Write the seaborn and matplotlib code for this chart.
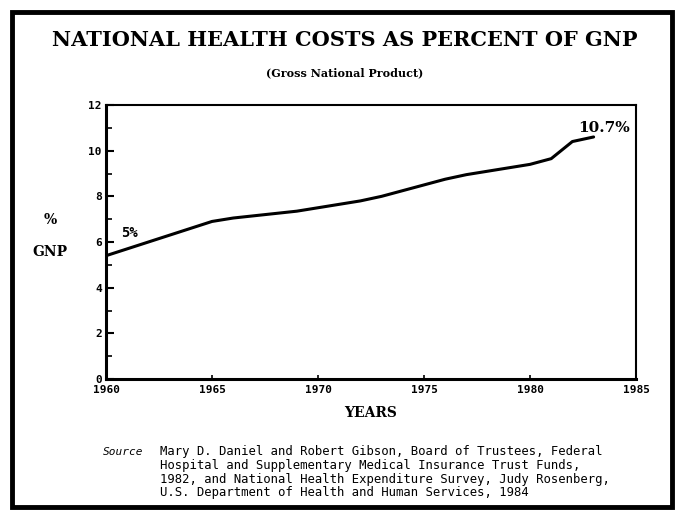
import matplotlib
matplotlib.use("Agg")
import matplotlib.pyplot as plt
import seaborn as sns
import pandas as pd
from matplotlib.patches import Rectangle
from matplotlib.ticker import MultipleLocator

years = [1960, 1961, 1962, 1963, 1964, 1965, 1966, 1967, 1968, 1969, 1970, 1971,
         1972, 1973, 1974, 1975, 1976, 1977, 1978, 1979, 1980, 1981, 1982, 1983]
pct_gnp = [5.4, 5.7, 6.0, 6.3, 6.6, 6.9, 7.05, 7.15, 7.25, 7.35, 7.5, 7.65,
           7.8, 8.0, 8.25, 8.5, 8.75, 8.95, 9.1, 9.25, 9.4, 9.65, 10.4, 10.6]
x_ticks = [1960, 1965, 1970, 1975, 1980, 1985]
y_ticks = [0, 2, 4, 6, 8, 10, 12]

title = "NATIONAL HEALTH COSTS AS PERCENT OF GNP"
subtitle = "(Gross National Product)"
source_lines = [
    "Mary D. Daniel and Robert Gibson, Board of Trustees, Federal",
    "Hospital and Supplementary Medical Insurance Trust Funds,",
    "1982, and National Health Expenditure Survey, Judy Rosenberg,",
    "U.S. Department of Health and Human Services, 1984",
]

df = pd.DataFrame({"year": years, "pct": pct_gnp})

sns.set_style("white")
plt.rcParams["font.family"] = ["DejaVu Serif"]
plt.rcParams["text.color"] = "black"
plt.rcParams["xtick.color"] = "black"
plt.rcParams["ytick.color"] = "black"

W, H = 678, 511
fig = plt.figure(figsize=(W / 100, H / 100), dpi=100)
fig.patch.set_facecolor("white")

# axes: x 106->636 px, y 105->379 px (from top)
ax = fig.add_axes([106 / W, 1 - 379 / H, (636 - 106) / W, (379 - 105) / H])
sns.lineplot(data=df, x="year", y="pct", ax=ax, color="black", linewidth=2.2)

ax.set_xlim(1960, 1985)
ax.set_ylim(0, 12)
ax.set_xticks(x_ticks)
ax.set_yticks(y_ticks)
ax.yaxis.set_minor_locator(MultipleLocator(1))
ax.set_xticklabels([str(t) for t in x_ticks], fontsize=8, fontweight="bold",
                   family="DejaVu Sans Mono")
ax.set_yticklabels([str(t) for t in y_ticks], fontsize=8, fontweight="bold",
                   family="DejaVu Sans Mono")
ax.tick_params(axis="y", which="major", direction="in", length=6, width=1.5,
               left=True, pad=3)
ax.tick_params(axis="y", which="minor", direction="in", length=4, width=1.2,
               left=True)
ax.tick_params(axis="x", which="major", direction="in", length=3, width=1.2,
               bottom=True, pad=4)
ax.set_xlabel("")
ax.set_ylabel("")
for side in ["left", "bottom"]:
    ax.spines[side].set_linewidth(2.2)
    ax.spines[side].set_color("black")
for side in ["top", "right"]:
    ax.spines[side].set_linewidth(1.5)
    ax.spines[side].set_color("black")
    ax.spines[side].set_visible(True)

# annotations
ax.text(1960.7, 6.1, "5%", fontsize=10, fontweight="bold", ha="left",
        va="bottom", family="DejaVu Sans Mono")
ax.text(1984.7, 11.0, "10.7%", fontsize=11, fontweight="bold", ha="right",
        va="center", family="DejaVu Serif")

# figure texts
fig.text(345 / W, 1 - 40 / H, title, fontsize=15, fontweight="bold",
         ha="center", va="center", family="DejaVu Serif")
fig.text(345 / W, 1 - 73 / H, subtitle, fontsize=8, fontweight="bold",
         ha="center", va="center", family="DejaVu Serif")
fig.text(50 / W, 1 - 220 / H, "%", fontsize=10, fontweight="bold",
         ha="center", va="center", family="DejaVu Serif")
fig.text(50 / W, 1 - 252 / H, "GNP", fontsize=10, fontweight="bold",
         ha="center", va="center", family="DejaVu Serif")
fig.text(371 / W, 1 - 413 / H, "YEARS", fontsize=10, fontweight="bold",
         ha="center", va="center", family="DejaVu Serif")

fig.text(103 / W, 1 - 452 / H, "Source", fontsize=8, ha="left", va="center",
         family="DejaVu Sans Mono", style="italic")
for i, line in enumerate(source_lines):
    fig.text(160 / W, 1 - (452 + 13.5 * i) / H, line, fontsize=8.8, ha="left",
             va="center", family="DejaVu Sans Mono")

# outer border
fig.patches.append(Rectangle((12 / W, 1 - 507 / H), (672 - 12) / W, (507 - 12) / H,
                             transform=fig.transFigure, fill=False,
                             edgecolor="black", linewidth=3.5))

fig.savefig("out.png", dpi=100, facecolor="white")
